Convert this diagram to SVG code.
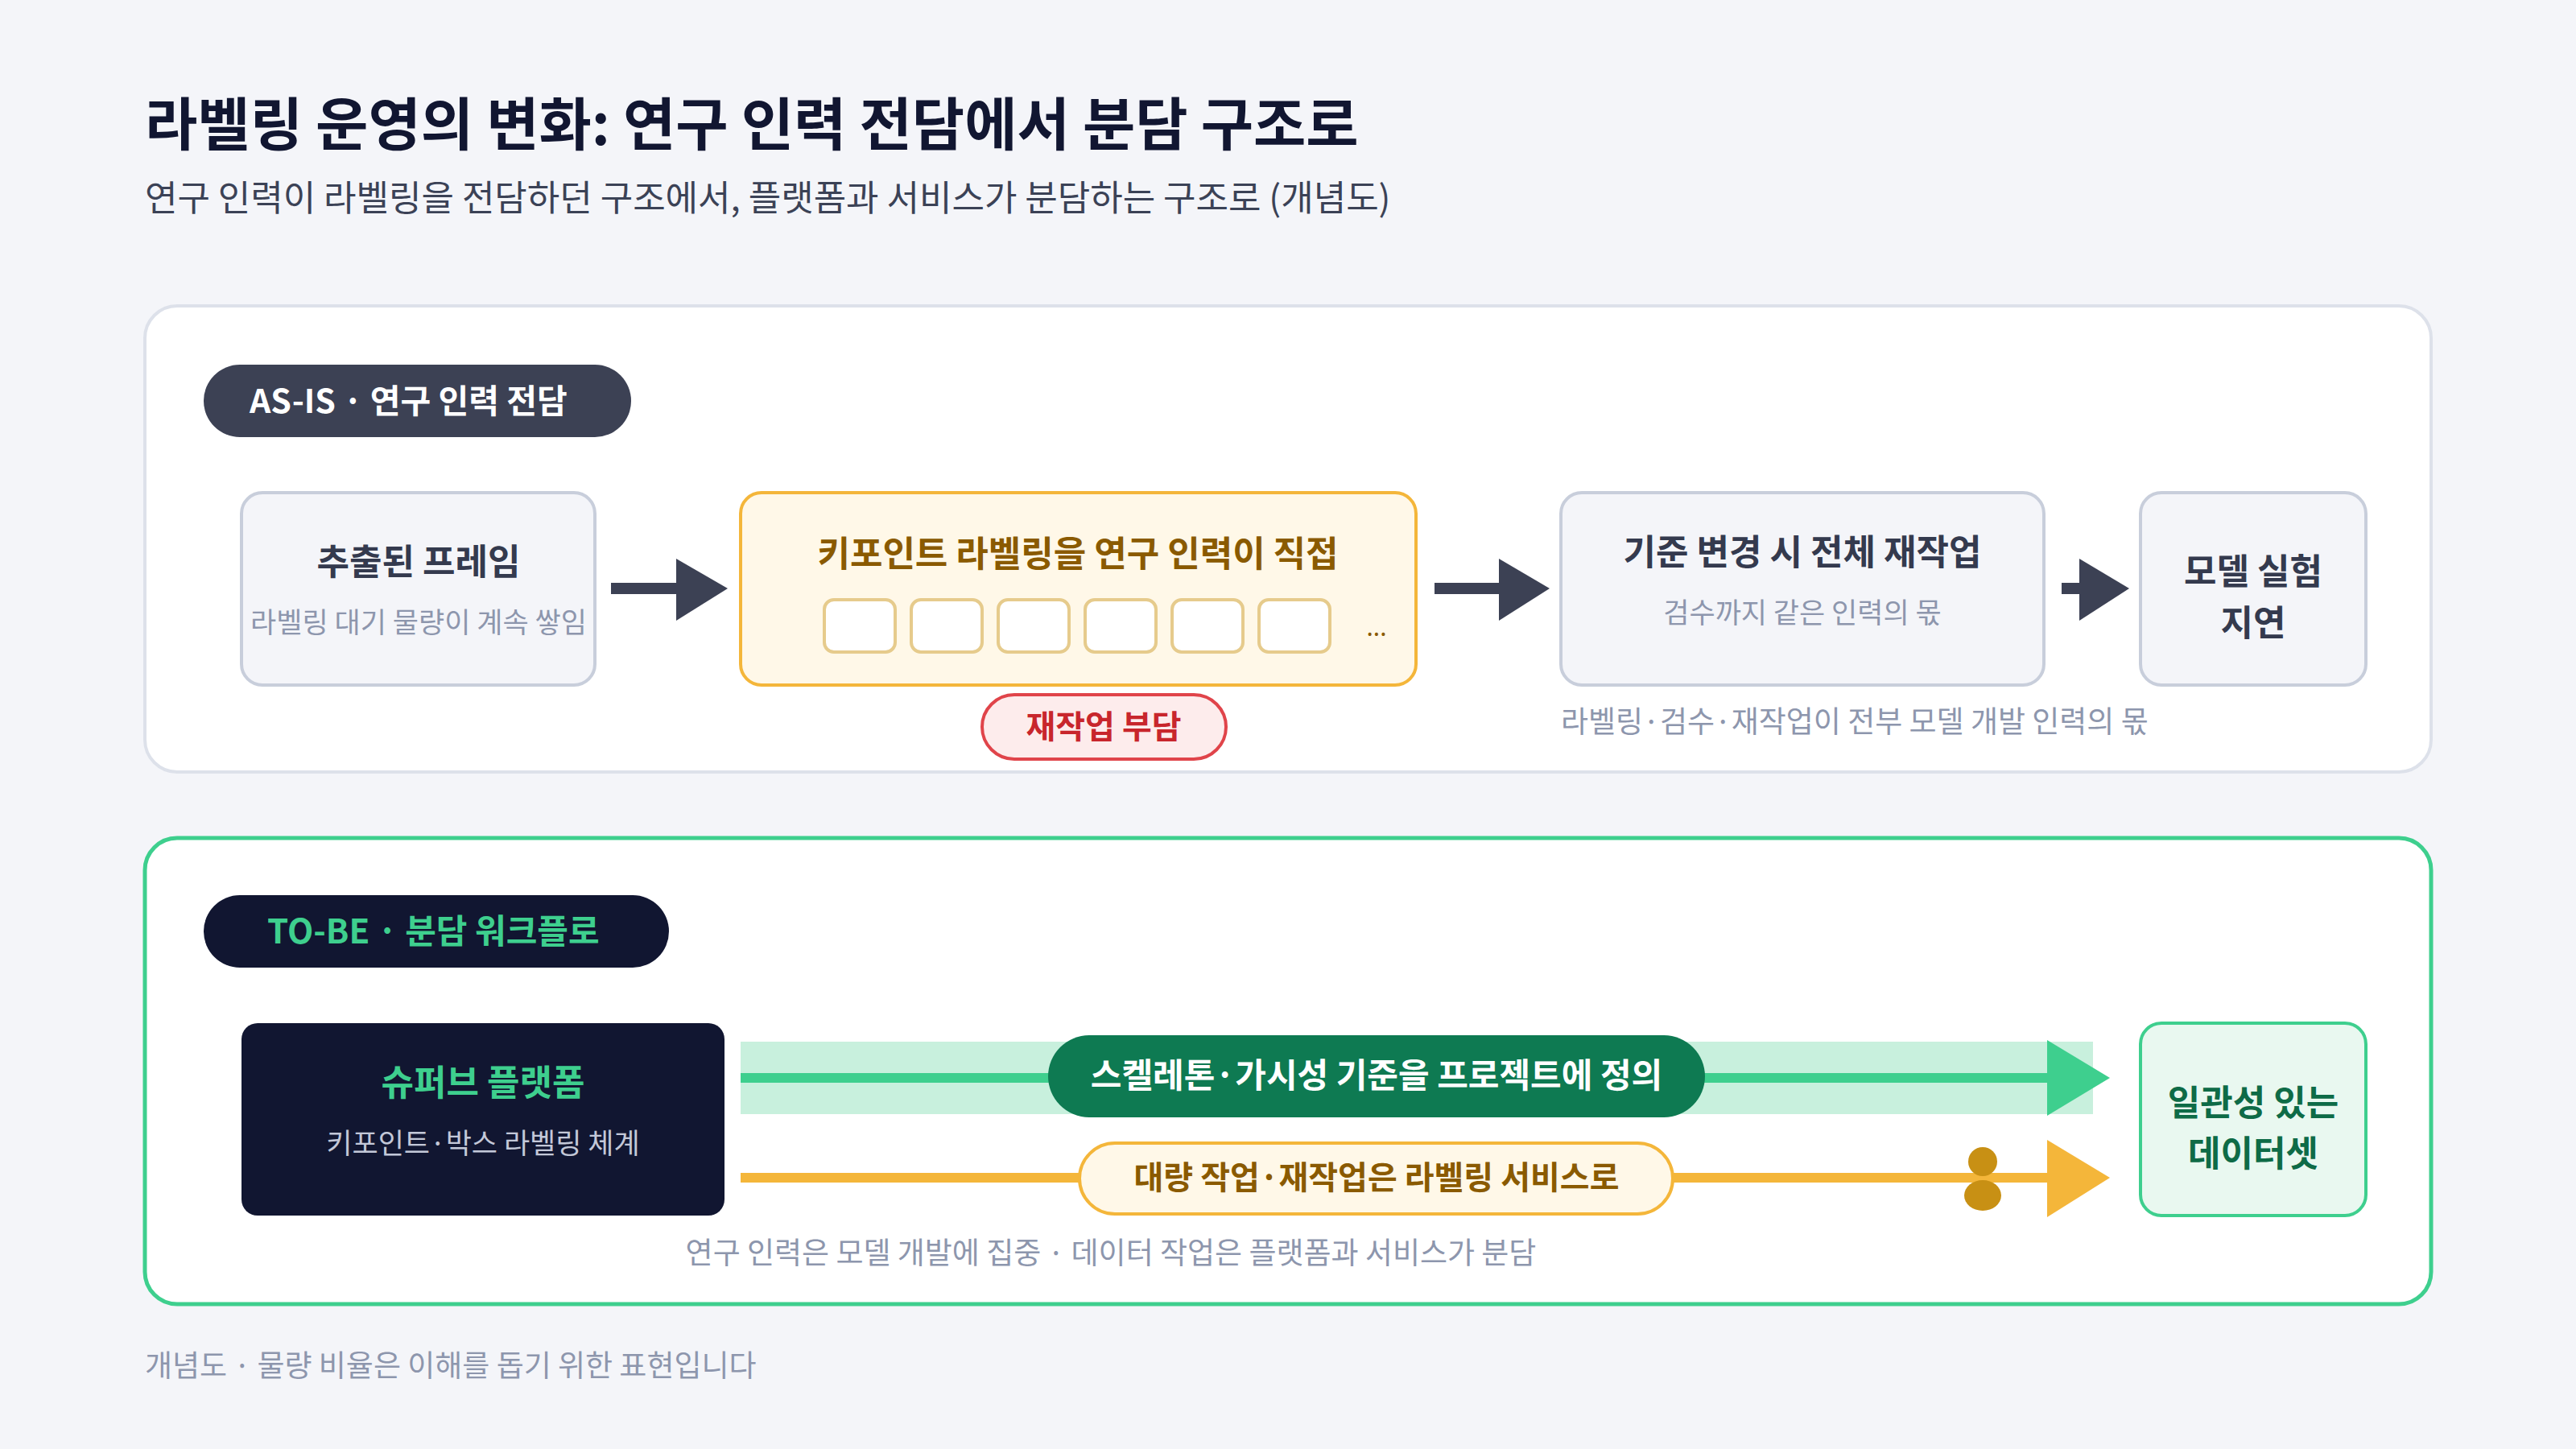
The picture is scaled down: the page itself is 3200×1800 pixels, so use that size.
<svg xmlns="http://www.w3.org/2000/svg" width="3200" height="1800" viewBox="0 0 3200 1800">
<style>
text{font-family:"Noto Sans CJK KR","Noto Sans",sans-serif}
.b{font-weight:700}
.t{font-size:44px;font-weight:700;fill:#343a4e;text-anchor:middle}
.s{font-size:35px;fill:#8d96ad;text-anchor:middle}
.cap{font-size:37px;fill:#8d96ad}
.gbox{fill:#f4f5f9;stroke:#c8cedb;stroke-width:4}
.sq{fill:#fff;stroke:#e6cb8c;stroke-width:4}
</style>
<rect width="3200" height="1800" fill="#f4f5f9"/>
<text x="180" y="180" font-size="71" class="b" fill="#111631">라벨링 운영의 변화: 연구 인력 전담에서 분담 구조로</text>
<text x="180" y="262" font-size="44" fill="#3b4256">연구 인력이 라벨링을 전담하던 구조에서, 플랫폼과 서비스가 분담하는 구조로 (개념도)</text>

<g id="panel-asis">
<rect x="180" y="380" width="2840" height="579" rx="40" fill="#fff" stroke="#dde1ea" stroke-width="4"/>
<rect x="253" y="453" width="531" height="90" rx="45" fill="#3c4154"/>
<text x="310" y="513" font-size="41" class="b" fill="#fff">AS-IS · 연구 인력 전담</text>
</g>
<g id="node-frames">
<rect class="gbox" x="300" y="612" width="439" height="239" rx="26"/>
<text class="t" x="520" y="714">추출된 프레임</text>
<text class="s" x="520" y="786">라벨링 대기 물량이 계속 쌓임</text>
</g>
<g id="node-direct">
<rect x="920" y="612" width="839" height="239" rx="26" fill="#fff8e8" stroke="#f4b63a" stroke-width="4"/>
<text x="1339" y="704" font-size="44" class="b" fill="#8a5a00" text-anchor="middle">키포인트 라벨링을 연구 인력이 직접</text>
<rect class="sq" x="1024" y="745" width="88" height="65" rx="12"/>
<rect class="sq" x="1132" y="745" width="88" height="65" rx="12"/>
<rect class="sq" x="1240" y="745" width="88" height="65" rx="12"/>
<rect class="sq" x="1348" y="745" width="88" height="65" rx="12"/>
<rect class="sq" x="1456" y="745" width="88" height="65" rx="12"/>
<rect class="sq" x="1564" y="745" width="88" height="65" rx="12"/>
<text x="1710" y="790" font-size="30" fill="#8a5a00" text-anchor="middle">...</text>
</g>
<g id="tag-rework">
<rect x="1220" y="863" width="303" height="80" rx="40" fill="#fdecec" stroke="#e0444a" stroke-width="4"/>
<text x="1371" y="917" font-size="40" class="b" fill="#c8262c" text-anchor="middle">재작업 부담</text>
</g>
<g id="node-rework">
<rect class="gbox" x="1939" y="612" width="600" height="239" rx="26"/>
<text class="t" x="2239" y="702">기준 변경 시 전체 재작업</text>
<text class="s" x="2239" y="774">검수까지 같은 인력의 몫</text>
</g>
<g id="node-delay">
<rect class="gbox" x="2659" y="612" width="280" height="239" rx="26"/>
<text class="t" x="2799" y="726">모델 실험</text>
<text class="t" x="2799" y="790">지연</text>
</g>
<text class="cap" x="1939" y="910">라벨링·검수·재작업이 전부 모델 개발 인력의 몫</text>

<g id="panel-tobe">
<rect x="180" y="1041" width="2840" height="579" rx="40" fill="#fff" stroke="#3ecf8e" stroke-width="5"/>
<rect x="253" y="1112" width="578" height="90" rx="45" fill="#111631"/>
<text x="332" y="1172" font-size="42" class="b" fill="#3ecf8e">TO-BE · 분담 워크플로</text>
</g>
<g id="node-platform">
<rect x="300" y="1271" width="600" height="239" rx="20" fill="#111631"/>
<text x="600" y="1361" font-size="44" class="b" fill="#3ecf8e" text-anchor="middle">슈퍼브 플랫폼</text>
<text x="600" y="1433" font-size="35" fill="#c3c8d8" text-anchor="middle">키포인트·박스 라벨링 체계</text>
</g>
<g id="connectors">
<line x1="759" y1="731" x2="845" y2="731" stroke="#3c4154" stroke-width="14"/>
<polygon points="840,694 904,731 840,771" fill="#3c4154"/>
<line x1="1782" y1="731" x2="1868" y2="731" stroke="#3c4154" stroke-width="14"/>
<polygon points="1862,694 1925,731 1862,771" fill="#3c4154"/>
<line x1="2561" y1="731" x2="2588" y2="731" stroke="#3c4154" stroke-width="14"/>
<polygon points="2583,694 2645,731 2583,771" fill="#3c4154"/>
<rect x="920" y="1294" width="1680" height="90" fill="#c8f0dd"/>
<line x1="920" y1="1339" x2="2550" y2="1339" stroke="#3ecf8e" stroke-width="12"/>
<polygon points="2543,1292 2621,1339 2543,1386" fill="#3ecf8e"/>
<line x1="920" y1="1463" x2="2550" y2="1463" stroke="#f4b63a" stroke-width="12"/>
<polygon points="2543,1416 2621,1463 2543,1512" fill="#f4b63a"/>
</g>
<g id="tag-define">
<rect x="1302" y="1286" width="816" height="102" rx="51" fill="#0e7a52"/>
<text x="1710" y="1351" font-size="42" class="b" fill="#fff" text-anchor="middle">스켈레톤·가시성 기준을 프로젝트에 정의</text>
</g>
<g id="tag-service">
<rect x="1341" y="1420" width="737" height="88" rx="44" fill="#fff8e8" stroke="#f4b63a" stroke-width="4"/>
<text x="1710" y="1477" font-size="40" class="b" fill="#8a5a00" text-anchor="middle">대량 작업·재작업은 라벨링 서비스로</text>
</g>
<g id="icon-person" fill="#c89014">
<circle cx="2463" cy="1443" r="18"/>
<ellipse cx="2463" cy="1485" rx="23" ry="19"/>
</g>
<g id="node-dataset">
<rect x="2659" y="1271" width="280" height="239" rx="26" fill="#e9f8f0" stroke="#3ecf8e" stroke-width="4"/>
<text x="2799" y="1386" font-size="44" class="b" fill="#0e6b47" text-anchor="middle">일관성 있는</text>
<text x="2799" y="1449" font-size="44" class="b" fill="#0e6b47" text-anchor="middle">데이터셋</text>
</g>
<text class="cap" x="1380" y="1570" text-anchor="middle">연구 인력은 모델 개발에 집중 · 데이터 작업은 플랫폼과 서비스가 분담</text>
<text x="180" y="1710" font-size="37" fill="#8d96ad">개념도 · 물량 비율은 이해를 돕기 위한 표현입니다</text>
</svg>
